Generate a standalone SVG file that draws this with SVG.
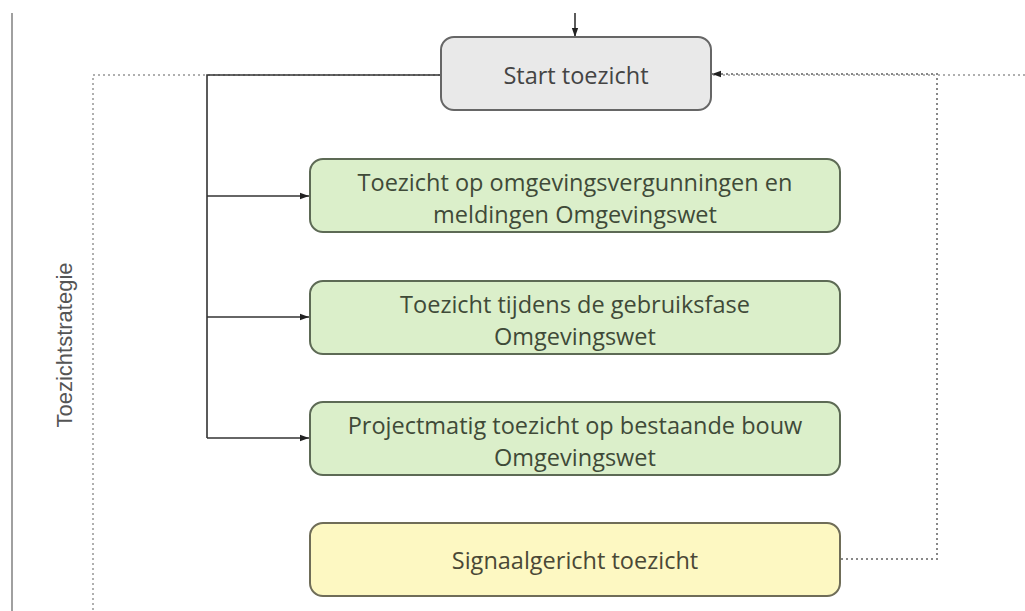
<svg xmlns="http://www.w3.org/2000/svg" width="1025" height="611" viewBox="0 0 1025 611">
<defs>
<style>
.lbl{font-family:"Open Sans","Noto Sans",sans-serif;font-size:23.5px;text-anchor:middle;}
.start rect{fill:#e9e9e9;stroke:#666;stroke-width:2;}
.green rect{fill:#dbefca;stroke:#5d6a55;stroke-width:2;}
.yellow rect{fill:#fdf8c2;stroke:#6f6d58;stroke-width:2;}
.start text{fill:#444;}
.green text{fill:#3f4a38;}
.yellow text{fill:#4a4836;}
.solid{fill:none;stroke:#333;stroke-width:1.6;}
.dot{fill:none;stroke:#888;stroke-width:2;stroke-dasharray:2 3;}
.frame{fill:none;stroke:#b0b0b0;stroke-width:2;stroke-dasharray:2 3;}
</style>
<marker id="ah" viewBox="0 0 10 10" refX="10" refY="5" markerWidth="10" markerHeight="9" markerUnits="userSpaceOnUse" orient="auto">
<path d="M0,1.5 L10,5 L0,8.5 z" fill="#222"/>
</marker>
</defs>
<rect width="1025" height="611" fill="#fff"/>
<line x1="12" y1="13" x2="12" y2="611" stroke="#a0a0a0" stroke-width="2"/>
<path class="frame" d="M1025,75 H93 V611"/>
<text x="72" y="345" transform="rotate(-90 72 345)" font-family="Liberation Sans,Arial,sans-serif" font-size="22" fill="#555" text-anchor="middle">Toezichtstrategie</text>
<g id="connectors">
<path class="solid" d="M575,13 V37" marker-end="url(#ah)"/>
<path class="solid" d="M442,75 H207 V438"/>
<path class="solid" d="M207,196 H309" marker-end="url(#ah)"/>
<path class="solid" d="M207,317 H309" marker-end="url(#ah)"/>
<path class="solid" d="M207,438 H309" marker-end="url(#ah)"/>
<path class="dot" d="M841,559 H937 V74 H712" marker-end="url(#ah)"/>
</g>
<g id="start" class="start">
<rect x="441" y="37" width="270" height="73" rx="13"/>
<text class="lbl" x="576" y="84">Start toezicht</text>
</g>
<g id="n1" class="green">
<rect x="310" y="159" width="530" height="73" rx="13"/>
<text class="lbl" x="575" y="191">Toezicht op omgevingsvergunningen en</text>
<text class="lbl" x="575" y="223">meldingen Omgevingswet</text>
</g>
<g id="n2" class="green">
<rect x="310" y="281" width="530" height="73" rx="13"/>
<text class="lbl" x="575" y="313">Toezicht tijdens de gebruiksfase</text>
<text class="lbl" x="575" y="345">Omgevingswet</text>
</g>
<g id="n3" class="green">
<rect x="310" y="402" width="530" height="73" rx="13"/>
<text class="lbl" x="575" y="434">Projectmatig toezicht op bestaande bouw</text>
<text class="lbl" x="575" y="466">Omgevingswet</text>
</g>
<g id="n4" class="yellow">
<rect x="310" y="523" width="530" height="73" rx="13"/>
<text class="lbl" x="575" y="569">Signaalgericht toezicht</text>
</g>
</svg>
